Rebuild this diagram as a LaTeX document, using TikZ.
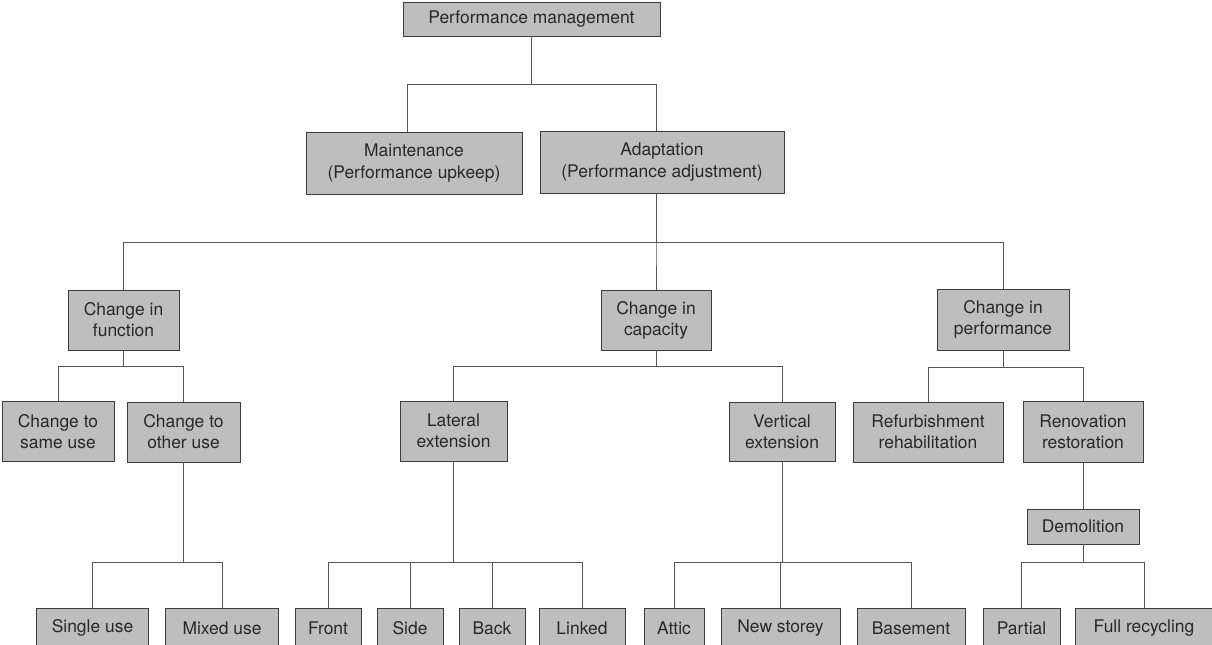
\documentclass[tikz,border=0pt]{standalone}
\usepackage{fontspec}
\setmainfont{TeX Gyre Heros}
\usepackage{tikz}
\usetikzlibrary{positioning,calc}
\definecolor{boxgray}{RGB}{190,190,190}
\definecolor{edgegray}{RGB}{60,60,60}
\definecolor{linegray}{RGB}{85,85,85}
\definecolor{textgray}{RGB}{40,40,40}

\begin{document}
\begin{tikzpicture}[x=0.025cm,y=-0.025cm,
    every node/.style={font=\fontsize{12.4}{15}\selectfont,text=textgray},
    box/.style={draw=edgegray,fill=boxgray,line width=0.6pt,inner sep=0pt,align=center},
    boxw/.style={minimum width=#1*0.025cm},
    boxh/.style={minimum height=#1*0.025cm},
    link/.style={draw=linegray,line width=0.6pt}]
    \useasboundingbox (0,0) rectangle (1212,645);
    \clip (0,0) rectangle (1212,645);
    % level 0 and 1
    \node[box,boxw=257,boxh=34] (pm) at (531.5,19) {Performance management};
    \node[box,boxw=216,boxh=62] (maint) at (414,163) {Maintenance\\(Performance upkeep)};
    \node[box,boxw=244,boxh=62] (adapt) at (662,162) {Adaptation\\(Performance adjustment)};
    % level 2
    \node[box,boxw=111,boxh=60] (func) at (123.5,320) {Change in\\function};
    \node[box,boxw=110,boxh=60] (cap) at (656,320) {Change in\\capacity};
    \node[box,boxw=132,boxh=61] (perf) at (1003,319.5) {Change in\\performance};
    % level 3
    \node[box,boxw=112,boxh=60] (sameuse) at (58,431.5) {Change to\\same use};
    \node[box,boxw=113,boxh=60] (otheruse) at (183.5,432) {Change to\\other use};
    \node[box,boxw=107,boxh=60] (lateral) at (453.5,431) {Lateral\\extension};
    \node[box,boxw=106,boxh=59] (vertical) at (782,431.5) {Vertical\\extension};
    \node[box,boxw=150,boxh=60] (refurb) at (928,432) {Refurbishment\\rehabilitation};
    \node[box,boxw=120,boxh=61] (renov) at (1083,431.5) {Renovation\\restoration};
    \node[box,boxw=112,boxh=35] (demol) at (1083,526.5) {Demolition};
    % bottom row
    \node[box,boxw=112,boxh=40] (single) at (92.5,628) {Single use};
    \node[box,boxw=113,boxh=40] (mixed) at (222,628) {Mixed use};
    \node[box,boxw=66,boxh=40] (front) at (328,628) {Front};
    \node[box,boxw=66,boxh=40] (side) at (410,628) {Side};
    \node[box,boxw=66,boxh=40] (back) at (492,628) {Back};
    \node[box,boxw=86,boxh=40] (linked) at (582,628) {Linked};
    \node[box,boxw=60,boxh=40] (attic) at (674,628) {Attic};
    \node[box,boxw=119,boxh=40] (storey) at (780.5,628) {New storey};
    \node[box,boxw=108,boxh=40] (basement) at (911,628) {Basement};
    \node[box,boxw=77,boxh=40] (partial) at (1021.5,628) {Partial};
    \node[box,boxw=138,boxh=40] (fullrec) at (1144,628) {Full recycling};
    % connectors
    \draw[link] (pm.south) -- ++(0,48) -| ($(maint.north)+(-7,0)$);
    \draw[link] (pm.south) -- ++(0,48) -| ($(adapt.north)+(-6,0)$);
    \draw[link] ($(adapt.south)+(-6,0)$) -- ++(0,49) -| (func.north);
    \draw[link] ($(adapt.south)+(-6,0)$) -- ++(0,49) -| (cap.north);
    \draw[link] ($(adapt.south)+(-6,0)$) -- ++(0,49) -| (perf.north);
    \draw[link] (func.south) -- ++(0,16) -| (sameuse.north);
    \draw[link] (func.south) -- ++(0,16) -| (otheruse.north);
    \draw[link] (cap.south) -- ++(0,16) -| (lateral.north);
    \draw[link] (cap.south) -- ++(0,16) -| (vertical.north);
    \draw[link] (perf.south) -- ++(0,17) -| (refurb.north);
    \draw[link] (perf.south) -- ++(0,17) -| (renov.north);
    \draw[link] (otheruse.south) -- ++(0,100) -| (single.north);
    \draw[link] (otheruse.south) -- ++(0,100) -| (mixed.north);
    \foreach \leaf in {front,side,back,linked}
        \draw[link] (lateral.south) -- ++(0,101) -| (\leaf.north);
    \foreach \leaf in {attic,storey,basement}
        \draw[link] (vertical.south) -- ++(0,101) -| (\leaf.north);
    \draw[link] (renov) -- (demol);
    \draw[link] (demol.south) -- ++(0,18) -| (partial.north);
    \draw[link] (demol.south) -- ++(0,18) -| (fullrec.north);
\end{tikzpicture}
\end{document}
